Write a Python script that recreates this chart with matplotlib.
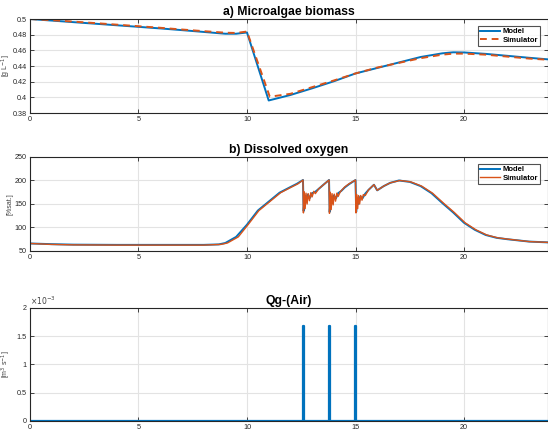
import matplotlib.pyplot as plt
from matplotlib.ticker import FormatStrFormatter, FuncFormatter

plt.rcParams['font.family'] = ['Liberation Sans', 'DejaVu Sans']

BLUE = '#0072BD'
ORANGE = '#D95319'

# a) Microalgae biomass [g/L]
bio_t_model = [0, 1, 2, 3, 4, 5, 6, 7, 8, 9, 9.5, 10, 11, 12, 13, 14, 15, 16, 17, 18, 19, 19.5, 20, 21, 22, 23, 24]
bio_model = [0.500, 0.498, 0.496, 0.494, 0.492, 0.490, 0.488, 0.4858, 0.4835, 0.4812, 0.4812, 0.4828, 0.3960,
             0.4030, 0.4115, 0.4205, 0.4305, 0.4375, 0.4445, 0.4515, 0.4562, 0.4575, 0.4573, 0.4555, 0.4530, 0.4505, 0.4482]
bio_t_sim = [0, 1, 2, 3, 4, 5, 6, 7, 8, 9, 9.5, 10, 11.05, 12, 13, 14, 15, 16, 17, 18, 19, 19.5, 20, 21, 22, 23, 24]
bio_sim = [0.500, 0.4985, 0.4967, 0.4948, 0.4928, 0.4908, 0.4888, 0.4866, 0.4845, 0.4825, 0.4822, 0.4840, 0.4008,
           0.4045, 0.4130, 0.4215, 0.4305, 0.4380, 0.4440, 0.4500, 0.4545, 0.4558, 0.4558, 0.4545, 0.4520, 0.4495, 0.4478]

# b) Dissolved oxygen [%sat.]
do_t_model = [0, 1, 2, 4, 6, 8, 8.7, 9, 9.5, 10, 10.5, 11, 11.5, 12, 12.3, 12.58,
              12.61, 12.66, 12.72, 12.8, 12.9, 13.0, 13.15, 13.3, 13.5, 13.78,
              13.81, 13.86, 13.92, 14.0, 14.1, 14.2, 14.35, 14.5, 14.7, 15.0,
              15.03, 15.08, 15.14, 15.22, 15.32, 15.45, 15.6, 15.85, 16.0, 16.3, 16.6,
              17, 17.5, 18, 18.5, 19, 19.5, 20, 20.5, 21, 21.5, 22, 23, 24]
do_model = [66, 64.5, 63.5, 63, 63, 63, 64, 67, 80, 106, 136, 155, 174, 186, 193, 201,
            135, 168, 155, 170, 163, 173, 176, 182, 190, 201,
            133, 165, 152, 168, 162, 173, 178, 185, 192, 201,
            133, 160, 150, 166, 162, 172, 180, 191, 179, 188, 195,
            200, 197, 188, 173, 152, 132, 110, 95, 84, 78, 75, 70, 68]
do_t_sim = [0, 1, 2, 4, 6, 8, 8.8, 9.1, 9.6, 10.05, 10.55, 11.05, 11.55, 12.05, 12.35, 12.58,
            12.6, 12.64, 12.68, 12.72, 12.77, 12.82, 12.88, 12.94, 13.0, 13.08, 13.15, 13.3, 13.5, 13.78,
            13.8, 13.84, 13.88, 13.92, 13.97, 14.02, 14.08, 14.14, 14.2, 14.3, 14.5, 14.7, 15.0,
            15.02, 15.06, 15.1, 15.14, 15.19, 15.24, 15.3, 15.36, 15.45, 15.6, 15.85, 16.0, 16.3, 16.6,
            17.05, 17.55, 18.05, 18.55, 19.05, 19.55, 20.05, 20.55, 21.05, 21.55, 22.05, 23, 24]
do_sim = [66, 64, 63, 62.5, 62.5, 62.5, 64, 67, 80, 106, 136, 155, 174, 186, 193, 201,
          131, 176, 140, 173, 150, 172, 157, 174, 165, 177, 172, 182, 190, 201,
          130, 175, 138, 172, 148, 171, 156, 173, 166, 176, 186, 193, 201,
          131, 170, 140, 168, 150, 168, 158, 170, 168, 180, 191, 179, 188, 195,
          200, 197, 188, 173, 152, 132, 110, 95, 84, 78, 75, 70, 68]

# c) Qg-(Air) [m3/s]
qg_t = [0, 12.59, 12.59, 12.61, 12.61, 13.79, 13.79, 13.81, 13.81, 14.99, 14.99, 15.01, 15.01, 24]
qg = [0, 0, 1.67e-3, 1.67e-3, 0, 0, 1.67e-3, 1.67e-3, 0, 0, 1.67e-3, 1.67e-3, 0, 0]

fig = plt.figure(figsize=(5.48, 4.34), dpi=100)
ax1 = fig.add_axes([0.0547, 0.7396, 0.9453, 0.2166])
ax2 = fig.add_axes([0.0547, 0.4217, 0.9453, 0.2166])
ax3 = fig.add_axes([0.0547, 0.0300, 0.9453, 0.2610])


def style(ax, ylabel):
    ax.set_xlim(0, 23.87)
    ax.set_xticks([0, 5, 10, 15, 20])
    ax.grid(True, color='#e3e3e3', linewidth=0.8)
    ax.set_axisbelow(True)
    ax.tick_params(direction='in', length=3, width=0.6, labelsize=5.2, colors='#262626',
                   top=True, right=True, pad=2.5)
    for s in ax.spines.values():
        s.set_color('#262626')
        s.set_linewidth(0.8)
    ax.set_ylabel(ylabel, fontsize=5, color='#404040')
    ax.yaxis.set_label_coords(-0.032, 0.5)


ax1.plot(bio_t_model, bio_model, color=BLUE, lw=1.4, label='Model')
ax1.plot(bio_t_sim, bio_sim, color=ORANGE, lw=1.4, ls=(0, (3.5, 2.5)), label='Simulator')
style(ax1, '[g L$^{-1}$]')
ax1.set_ylim(0.38, 0.5)
ax1.set_yticks([0.38, 0.4, 0.42, 0.44, 0.46, 0.48, 0.5])
ax1.yaxis.set_major_formatter(FormatStrFormatter('%g'))
ax1.set_title('a) Microalgae biomass', fontsize=8.8, fontweight='bold', pad=3)

ax2.plot(do_t_model, do_model, color=BLUE, lw=1.4, label='Model')
ax2.plot(do_t_sim, do_sim, color=ORANGE, lw=1.0, label='Simulator')
style(ax2, '[%sat.]')
ax2.set_ylim(50, 250)
ax2.set_yticks([50, 100, 150, 200, 250])
ax2.set_title('b) Dissolved oxygen', fontsize=8.8, fontweight='bold', pad=3)

ax3.plot(qg_t, qg, color=BLUE, lw=1.6)
style(ax3, '[m$^3$ s$^{-1}$]')
ax3.set_ylim(0, 2e-3)
ax3.set_yticks([0, 0.5e-3, 1e-3, 1.5e-3, 2e-3])
ax3.yaxis.set_major_formatter(FuncFormatter(lambda v, p: '%g' % round(v * 1e3, 3)))
ax3.text(0.0, 1.01, r'$\times10^{-3}$', transform=ax3.transAxes, fontsize=5.5,
         color='#404040', ha='left', va='bottom')
ax3.set_title('Qg-(Air)', fontsize=8.8, fontweight='bold', pad=3)

for ax in (ax1, ax2):
    leg = ax.legend(loc='upper right', bbox_to_anchor=(0.985, 0.93), fontsize=5.5, frameon=True,
                    fancybox=False, handlelength=2.6, borderpad=0.3, labelspacing=0.2,
                    handletextpad=0.3, borderaxespad=0)
    leg.get_frame().set_edgecolor('#262626')
    leg.get_frame().set_linewidth(0.8)
    for t in leg.get_texts():
        t.set_fontweight('bold')

fig.savefig('out.png', dpi=100)
